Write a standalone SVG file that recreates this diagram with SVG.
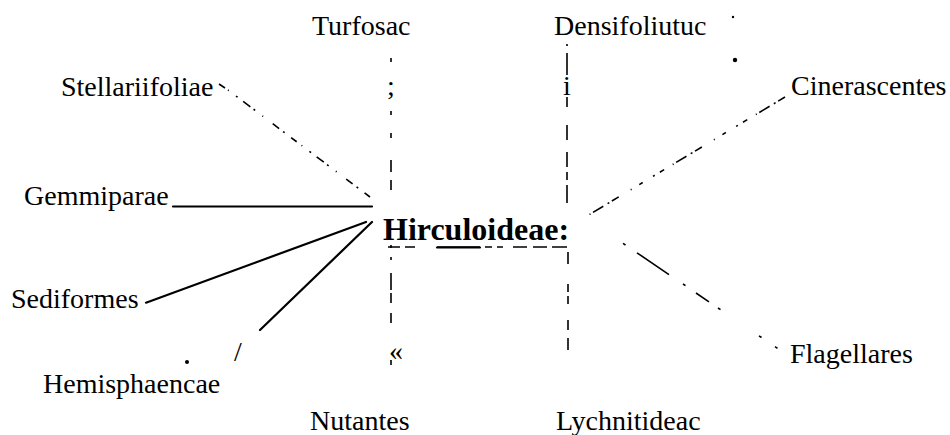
<svg xmlns="http://www.w3.org/2000/svg" width="950" height="435" viewBox="0 0 950 435">
<style>
.lbl{font-family:"Liberation Serif","Times New Roman",serif;font-size:28px;fill:#000}
.hub{font-family:"Liberation Serif","Times New Roman",serif;font-size:32px;font-weight:bold;fill:#000}
.solid{stroke:#000;stroke-width:2.2;fill:none;stroke-linecap:round}
.dash{stroke:#000;stroke-width:1.6;fill:none}
.thin{stroke:#000;stroke-width:1.4;fill:none}
</style>
<rect width="950" height="435" fill="#fff"/>
<g id="connectors">
  <!-- Stellariifoliae -->
  <path class="dash" d="M219 84L225 88"/>
  <line class="dash" x1="228" y1="90" x2="370" y2="197" stroke-dasharray="1 9 2 7 9 4 2 9 1 12 8 5 2 8 7 6"/>
  <!-- Turfosac vertical -->
  <path class="dash" d="M391 58V62 M391 111V115 M391 133V138 M391 160V172 M391 180V190 M391 245V248 M391 257V260 M391 273V290 M391 293V303 M391 313V323 M391 360V365"/>
  <!-- Densifoliutuc vertical -->
  <path class="dash" d="M567 44V46 M567 53V75 M567 97V107 M567 125V140 M567 152V167 M567 172V180 M567 185V203"/>
  <!-- Lychnitideac vertical -->
  <path class="dash" d="M568 252V264 M568 284V292 M568 296V304 M568 320V330 M568 338V350"/>
  <!-- Cinerascentes -->
  <line class="dash" x1="785" y1="97" x2="587" y2="216" stroke-dasharray="8 3 2 5 12 3 1 10 5 6 2 12 4 9 1 14"/>
  <!-- Gemmiparae -->
  <line class="solid" x1="173" y1="206.5" x2="372" y2="206.5"/>
  <!-- Sediformes -->
  <line class="solid" x1="146" y1="302.7" x2="366" y2="222"/>
  <!-- Hemisphaencae -->
  <line class="solid" x1="260" y1="330" x2="372" y2="222"/>
  <!-- Flagellares -->
  <path class="dash" d="M623 243.3L625.5 245 M637 252.8L669 274.6 M683 284L685.5 285.7 M696 293L709 301.8 M718 308L720.5 309.7 M759 335.8L761.5 337.5 M775 346.7L777.5 348.4"/>
  <!-- Hirculoideae underline -->
  <path class="thin" d="M388 247H400 M405 247H415 M437 247H480 M485 247H492 M497 247H503 M513 247H527 M533 247H547 M552 247H567"/>
  <line class="solid" x1="437" y1="247.5" x2="480" y2="247.5"/>
  <!-- marks -->
  <circle cx="733" cy="17" r="1.2" fill="#000"/>
  <circle cx="735" cy="60" r="2.2" fill="#000"/>
  <circle cx="187" cy="362" r="2" fill="#000"/>
</g>
<g id="n-turfosac"><text class="lbl" x="312" y="35">Turfosac</text><text class="lbl" x="387" y="95" font-size="24">;</text></g>
<g id="n-densifoliutuc"><text class="lbl" x="554" y="35">Densifoliutuc</text><text class="lbl" x="563" y="95">i</text></g>
<g id="n-stellariifoliae"><text class="lbl" x="61" y="96">Stellariifoliae</text></g>
<g id="n-cinerascentes"><text class="lbl" x="791" y="95">Cinerascentes</text></g>
<g id="n-gemmiparae"><text class="lbl" x="24" y="205" font-size="27.5">Gemmiparae</text></g>
<g id="n-hirculoideae"><text class="hub" x="383" y="240">Hirculoideae:</text></g>
<g id="n-sediformes"><text class="lbl" x="11" y="308">Sediformes</text></g>
<g id="n-hemisphaencae"><text class="lbl" x="43" y="393" font-size="29">Hemisphaencae</text><text class="lbl" x="234" y="361">/</text></g>
<g id="n-flagellares"><text class="lbl" x="790" y="363">Flagellares</text></g>
<g id="n-nutantes"><text class="lbl" x="310" y="430" font-size="29">Nutantes</text><text class="lbl" x="389" y="360" font-size="20">«</text></g>
<g id="n-lychnitideac"><text class="lbl" x="556" y="430">Lychnitideac</text></g>
</svg>
